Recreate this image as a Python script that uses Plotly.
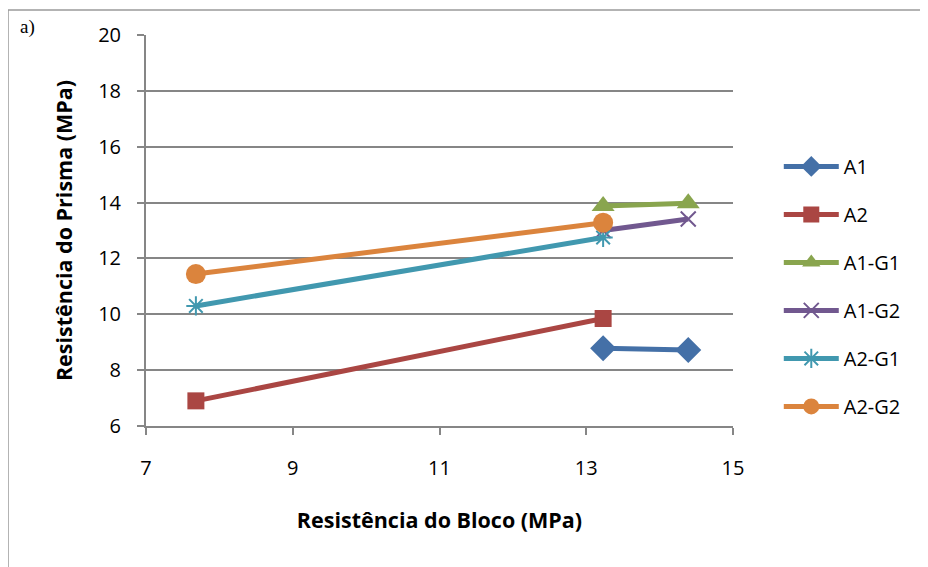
import plotly.graph_objects as go

series_names = ["A1", "A2", "A1-G1", "A1-G2", "A2-G1", "A2-G2"]
x_A1 = [13.23, 14.39]
y_A1 = [8.78, 8.72]
x_A2 = [7.68, 13.23]
y_A2 = [6.90, 9.85]
x_A1G1 = [13.23, 14.39]
y_A1G1 = [13.88, 13.98]
x_A1G2 = [13.23, 14.39]
y_A1G2 = [13.00, 13.41]
x_A2G1 = [7.68, 13.23]
y_A2G1 = [10.30, 12.75]
x_A2G2 = [7.68, 13.23]
y_A2G2 = [11.44, 13.28]

colors = ["#4470A7", "#AA4643", "#89A54E", "#71588F", "#4198AF", "#DB843D"]
symbols = ["diamond", "square", "triangle-up", "x-thin", "asterisk-open", "circle"]
sizes = [20, 17, 20, 15, 16, 20]

xs = [x_A1, x_A2, x_A1G1, x_A1G2, x_A2G1, x_A2G2]
ys = [y_A1, y_A2, y_A1G1, y_A1G2, y_A2G1, y_A2G2]

fig = go.Figure()
for name, x, y, c, s, sz in zip(series_names, xs, ys, colors, symbols, sizes):
    thin = s in ("x-thin", "asterisk-open")
    fig.add_trace(go.Scatter(
        x=x, y=y, name=name, mode="lines+markers", legendgroup=name,
        line=dict(color=c, width=5),
        marker=dict(symbol=s, size=sz, color=c,
                    line=dict(color=c, width=2 if thin else 0)),
    ))

font_lbl = "Open Sans, Liberation Sans, sans-serif"

# page offset (body margin) of 8px: plot area in page px is 146..733 x 35..426
fig.update_layout(
    width=928, height=567,
    margin=dict(l=138, r=203, t=27, b=149),
    paper_bgcolor="white", plot_bgcolor="white",
    showlegend=True,
    legend=dict(x=1.078, y=0.357, xanchor="left", yanchor="middle",
                font=dict(family=font_lbl, size=20, color="black"),
                tracegroupgap=19, itemwidth=55, bgcolor="rgba(0,0,0,0)"),
    xaxis=dict(range=[7, 15], tickvals=[7, 9, 11, 13, 15], showgrid=False,
               showline=True, linecolor="#868686", linewidth=2,
               ticks="outside", ticklen=7, tickcolor="#868686", tickwidth=2,
               ticklabelstandoff=16, zeroline=False,
               tickfont=dict(family=font_lbl, size=20, color="black"),
               title=dict(text="<b>Resistência do Bloco (MPa)</b>", standoff=33,
                          font=dict(family=font_lbl, size=21.5, color="black"))),
    yaxis=dict(range=[6, 20], tickvals=[6, 8, 10, 12, 14, 16, 18, 20],
               showgrid=True, gridcolor="#868686", gridwidth=1.5,
               showline=True, linecolor="#868686", linewidth=2,
               ticks="outside", ticklen=7, tickcolor="#868686", tickwidth=2,
               ticklabelstandoff=12, zeroline=False,
               tickfont=dict(family=font_lbl, size=20, color="black"),
               title=dict(text="<b>Resistência do Prisma (MPa)</b>", standoff=20,
                          font=dict(family=font_lbl, size=21.5, color="black"))),
)

# outer chart frame (left and top edges visible), in page px
px_w, px_h = 587.0, 391.0
def xp(px):
    return (px - 146) / px_w
def yp(py):
    return (426 - py) / px_h

fig.add_shape(type="line", xref="paper", yref="paper",
              x0=xp(8), x1=xp(8), y0=yp(10), y1=yp(580),
              line=dict(color="#9a9a9a", width=1.5))
fig.add_shape(type="line", xref="paper", yref="paper",
              x0=xp(8), x1=xp(940), y0=yp(10), y1=yp(10),
              line=dict(color="#9a9a9a", width=1.5))

fig.add_annotation(text="a)", xref="paper", yref="paper",
                   x=xp(18), y=yp(14), xanchor="left", yanchor="top",
                   showarrow=False,
                   font=dict(family="Liberation Serif, serif", size=19, color="black"))

fig.write_html("out.html")
